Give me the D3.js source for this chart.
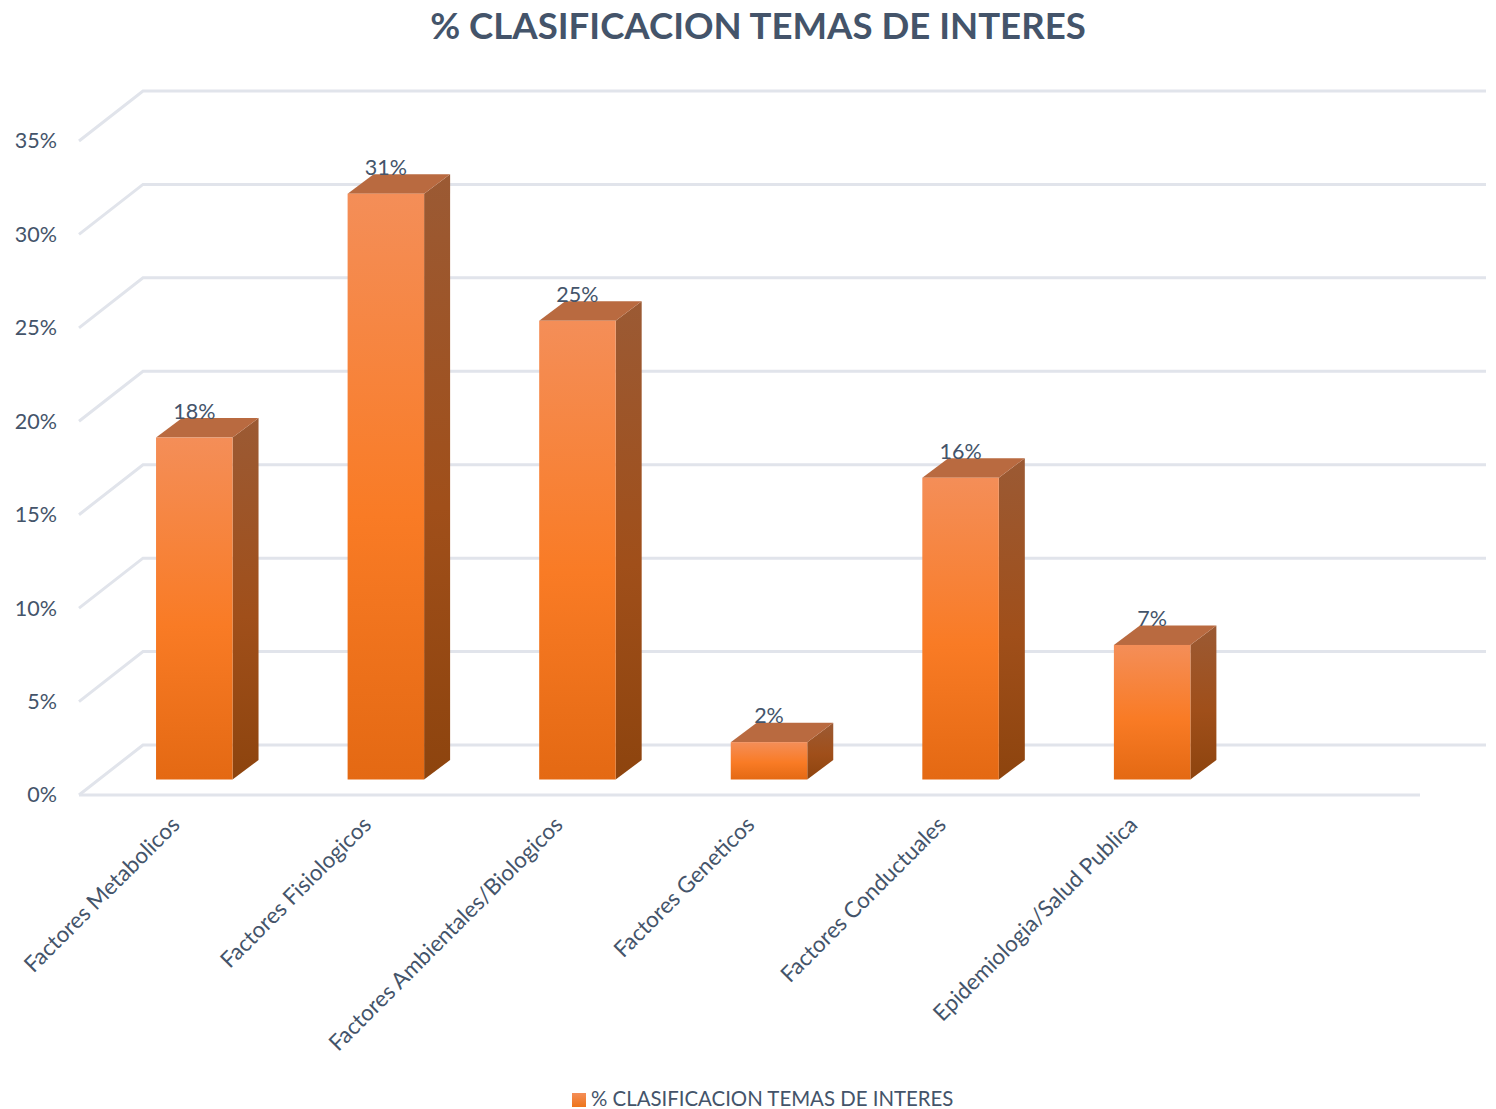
<!DOCTYPE html>
<html>
<head>
<meta charset="utf-8">
<script src="https://cdn.jsdelivr.net/npm/d3@7"></script>
<style>
  html, body { margin: 0; background: #fff; }
  svg { display: block; }
  text { font-family: Lato, "Open Sans", sans-serif; fill: #44546A; }
</style>
</head>
<body>
<svg id="chart"></svg>
<script>
const chartTitle = "% CLASIFICACION TEMAS DE INTERES";
const categories = [
  "Factores Metabolicos",
  "Factores Fisiologicos",
  "Factores Ambientales/Biologicos",
  "Factores Geneticos",
  "Factores Conductuales",
  "Epidemiologia/Salud Publica"
];
const values = [18.3, 31.35, 24.55, 2.0, 16.15, 7.2];
const tickValues = [0, 5, 10, 15, 20, 25, 30, 35];

const width = 1496;
const height = 1109;

// floor runs from the front edge to the back wall
const left = 79;
const right = 1420;
const front = 795;
const depthX = 64;
const depthY = 50;
// bars stand a little way in from the front edge
const barDepthX = 26;
const barDepthY = 19.5;
const barInsetY = 15.5;
const barShiftX = 19.5;

const svg = d3.select("#chart").attr("width", width).attr("height", height);
const defs = svg.append("defs");

const addGradient = (id, stops) => {
  defs.append("linearGradient")
    .attr("id", id)
    .attr("x1", 0).attr("x2", 0).attr("y1", 0).attr("y2", 1)
    .selectAll("stop")
    .data(stops)
    .join("stop")
    .attr("offset", (d) => d[0])
    .attr("stop-color", (d) => d[1]);
};
addGradient("frontFill", [[0, "#F48E58"], [0.55, "#F97B25"], [1, "#E46913"]]);
addGradient("sideFill", [[0, "#9B5A34"], [0.55, "#A04F1A"], [1, "#8D440E"]]);
addGradient("legendFill", [[0, "#F48E58"], [1, "#EE7419"]]);

const x = d3.scaleBand()
  .domain([...categories, ""]) // empty slot on the right, as in the original
  .range([left, right]);

const y = d3.scaleLinear().domain([0, 35]).range([front, front - 654]);

// --- walls ---
const grid = svg.append("g")
  .attr("fill", "none")
  .attr("stroke", "#E1E4EB")
  .attr("stroke-width", 3);

grid.selectAll("path")
  .data(tickValues)
  .join("path")
  .attr("d", (d) =>
    `M${left},${y(d)} L${left + depthX},${y(d) - depthY} L${width - 10},${y(d) - depthY}`);

grid.append("line")
  .attr("x1", left).attr("x2", right)
  .attr("y1", y(0)).attr("y2", y(0));

// --- y axis ---
const yAxis = svg.append("g")
  .attr("transform", `translate(${left - 22},0)`)
  .call(d3.axisLeft(y).tickValues(tickValues).tickSize(0).tickPadding(0).tickFormat((d) => d + "%"));
yAxis.select(".domain").remove();
yAxis.attr("font-family", null).attr("font-size", null);
yAxis.selectAll("text").style("font-size", "21.5px");

// --- x axis ---
const xAxis = svg.append("g")
  .attr("transform", `translate(0,${front + 18})`)
  .call(d3.axisBottom(x).tickValues(categories).tickSize(0).tickPadding(0));
xAxis.select(".domain").remove();
xAxis.attr("font-family", null).attr("font-size", null);
xAxis.selectAll("text")
  .style("font-size", "22.4px")
  .attr("text-anchor", "end")
  .attr("dy", "0.71em")
  .attr("transform", "translate(-5,2) rotate(-45)");

// --- bars ---
const barWidth = 76.5;
const barX = (d) => x(d) + (x.bandwidth() - barWidth) / 2 + barShiftX;
const barTop = (v) => y(v) - barInsetY;
const barBase = y(0) - barInsetY;

const bars = svg.append("g")
  .selectAll("g")
  .data(categories.map((c, i) => ({ category: c, value: values[i] })))
  .join("g");

bars.append("path")
  .attr("fill", "url(#sideFill)")
  .attr("d", (d) => {
    const r = barX(d.category) + barWidth;
    return `M${r},${barTop(d.value)} l${barDepthX},${-barDepthY} L${r + barDepthX},${barBase - barDepthY} L${r},${barBase} Z`;
  });

bars.append("path")
  .attr("fill", "#B96A40")
  .attr("d", (d) => {
    const l = barX(d.category);
    const t = barTop(d.value);
    return `M${l},${t} l${barDepthX},${-barDepthY} h${barWidth} l${-barDepthX},${barDepthY} Z`;
  });

bars.append("rect")
  .attr("fill", "url(#frontFill)")
  .attr("x", (d) => barX(d.category))
  .attr("y", (d) => barTop(d.value))
  .attr("width", barWidth)
  .attr("height", (d) => barBase - barTop(d.value));

bars.append("text")
  .attr("x", (d) => barX(d.category) + barWidth / 2)
  .attr("y", (d) => barTop(d.value) - 19)
  .attr("text-anchor", "middle")
  .style("font-size", "21.5px")
  .text((d) => Math.round(d.value) + "%");

// --- title ---
svg.append("text")
  .attr("x", 758)
  .attr("y", 39)
  .attr("text-anchor", "middle")
  .style("font-size", "36.6px")
  .style("font-weight", "bold")
  .text(chartTitle);

// --- legend ---
svg.append("rect")
  .attr("x", 572).attr("y", 1093)
  .attr("width", 14).attr("height", 14)
  .attr("fill", "url(#legendFill)");

svg.append("text")
  .attr("x", 591)
  .attr("y", 1106)
  .style("font-size", "20.4px")
  .text(chartTitle);
</script>
</body>
</html>
